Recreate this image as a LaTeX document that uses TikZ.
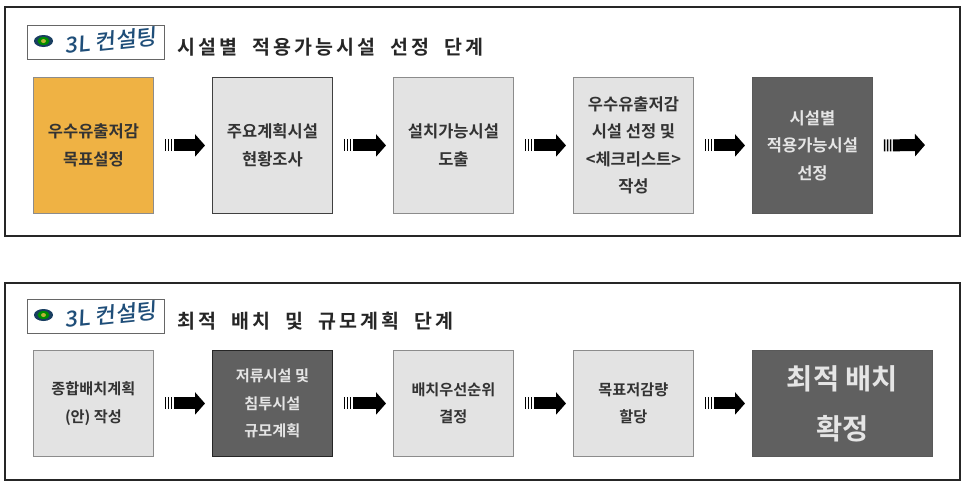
\documentclass[tikz,border=0pt]{standalone}
\usepackage{fontspec}
\setmainfont{Noto Sans CJK KR Medium}
\newfontfamily\titlefont{Noto Sans CJK KR Bold}[LetterSpace=16]
\newfontfamily\boxfont{Noto Sans CJK KR Bold}
\definecolor{stepgold}{HTML}{EFB244}
\definecolor{steplight}{HTML}{E3E3E3}
\definecolor{stepdark}{HTML}{606060}
\definecolor{logoblue}{HTML}{1F4E79}
\usetikzlibrary{arrows.meta}
\newcommand{\wordgap}{\hspace*{15pt}}
\tikzset{
    panel/.style={draw=black!85, line width=1.8pt},
    stepbox/.style={rectangle, anchor=north west, align=center, inner sep=0pt, draw=black!45, line width=0.9pt,
        minimum width=120pt, minimum height=136pt, font=\boxfont\fontsize{16.5}{27.5}\selectfont, text=black!80},
    lightbox/.style={stepbox, fill=steplight},
    darkbox/.style={stepbox, fill=stepdark, text=white!90!black, draw=black!65},
    shortbox/.style={minimum height=106pt, font=\boxfont\fontsize{15.2}{27.5}\selectfont},
    flow/.style={line width=12pt, draw=black, dash pattern=on 1.5pt off 1.5pt on 1.5pt off 1.5pt on 1.5pt off 1.5pt on 100pt off 0pt,
        -{Triangle[length=10pt,width=22pt]}, shorten <=11pt, shorten >=7pt},
    logobox/.style={draw=black!60, fill=white, line width=1.1pt, anchor=north west, minimum width=137pt, minimum height=34pt, inner sep=0pt},
    logotext/.style={text=logoblue, font=\fontsize{22}{22}\selectfont, inner sep=0pt, xslant=0.15, rotate=6, transform shape},
    titletext/.style={anchor=west, inner sep=0pt, font=\titlefont\fontsize{19.5}{20}\selectfont, text=black!85},
}
\begin{document}
\begin{tikzpicture}[x=1pt,y=-1pt]
    \useasboundingbox (0,0) rectangle (966,491);
    \fill[white] (0,0) rectangle (966,491);
    \draw[panel] (5,7) rectangle (960,236);
    \draw[panel] (5,283) rectangle (960,480);

    \foreach \n/\y in {a/25,b/299}{
        \node[logobox] (logo\n) at (27,\y) {};
        \fill[logoblue!80!black] (43.5,\y+16) ellipse (9.5 and 6);
        \fill[green!55!black] (43.5,\y+16) ellipse (6 and 4);
        \fill[yellow!70!black] (43.5,\y+16) ellipse (2.5 and 2);
        \node[logotext] (logotext\n) at (112,\y+16) {3L 컨설팅};
    }
    \node[titletext] (title1) at (177,47) {시설별\wordgap 적용가능시설\wordgap 선정\wordgap 단계};
    \node[titletext] (title2) at (177,321) {최적\wordgap 배치\wordgap 및\wordgap 규모계획\wordgap 단계};

    \node[stepbox, fill=stepgold] (a1) at (33,77) {우수유출저감\\목표설정};
    \node[lightbox, draw=black!75] (a2) at (212,77) {주요계획시설\\현황조사};
    \node[lightbox] (a3) at (393,77) {설치가능시설\\도출};
    \node[lightbox] (a4) at (573,77) {우수유출저감\\시설 선정 및\\<체크리스트>\\작성};
    \node[darkbox] (a5) at (752,77) {시설별\\적용가능시설\\선정};
    \coordinate (a6) at (932,145);

    \node[lightbox, shortbox] (b1) at (33,350) {종합배치계획\\(안) 작성};
    \node[darkbox, shortbox, draw=black!85] (b2) at (212,350) {저류시설 및\\침투시설\\규모계획};
    \node[lightbox, shortbox] (b3) at (393,350) {배치우선순위\\결정};
    \node[lightbox, shortbox] (b4) at (573,350) {목표저감량\\할당};
    \node[darkbox, shortbox, minimum width=180pt, font=\boxfont\fontsize{28.5}{50}\selectfont] (b5) at (752,350) {최적 배치\\확정};

    \foreach \i/\j in {1/2,2/3,3/4,4/5}{
        \draw[flow] (a\i.east) -- (a\j.west);
        \draw[flow] (b\i.east) -- (b\j.west);
    }
    \draw[flow] (a5.east) -- (a6);
\end{tikzpicture}
\end{document}
